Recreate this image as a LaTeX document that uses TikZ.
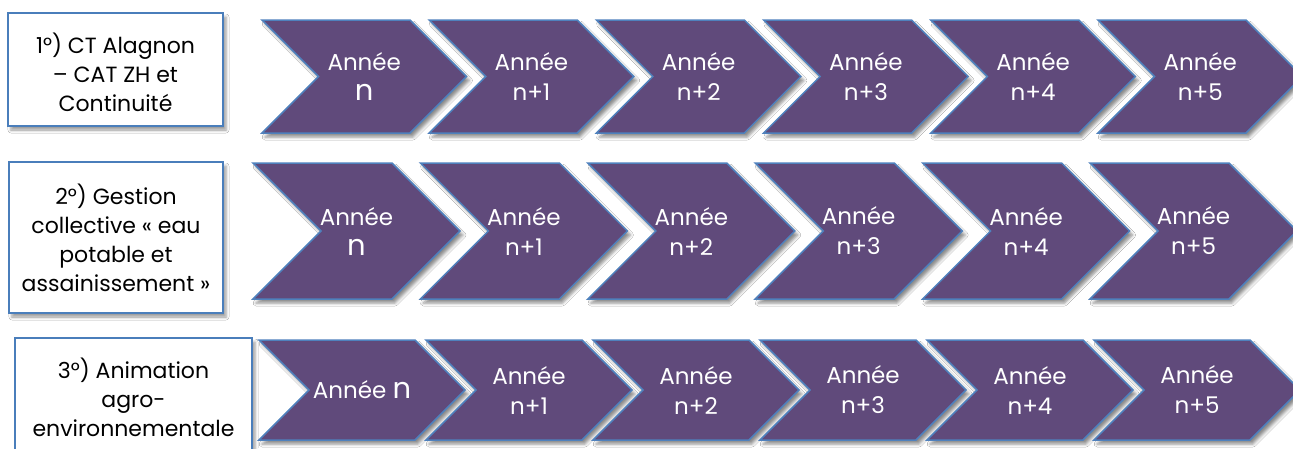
\documentclass[tikz,border=0pt]{standalone}
\usepackage{fontspec}
\setmainfont{Poppins}
\usetikzlibrary{shadows.blur}
\definecolor{chevfill}{HTML}{604A7B}
\definecolor{chevline}{HTML}{4F81BD}
\definecolor{boxline}{HTML}{4A7EBB}
\tikzset{
  chevstyle/.style={fill=chevfill, draw=chevline, line width=1.5pt, line join=miter,
    blur shadow={shadow xshift=3pt, shadow yshift=-4pt, shadow blur radius=3pt, shadow opacity=45}},
  chevtext/.style={text=white, align=center, font=\fontsize{23}{30}\selectfont, inner sep=0pt},
  labelbox/.style={fill=white, draw=boxline, line width=2pt,
    blur shadow={shadow xshift=3pt, shadow yshift=-4pt, shadow blur radius=3pt, shadow opacity=40}},
  labeltext/.style={text=black, align=center, font=\fontsize{22}{29}\selectfont, inner sep=0pt}
}
\newcommand\bign{{\fontsize{29}{30}\selectfont n}}
% #1 x0, #2 top, #3 top width, #4 half height, #5 name, #6 text
\newcommand\mychev[6]{%
  \path[chevstyle] (#1,#2) -- ++(#3,0) -- ++(#4,#4) -- ++(-#4,#4) -- ++(-#3,0) -- ++(#4,-#4) -- cycle;
  \node[chevtext] (#5) at ({#1+(#3+#4)/2},{#2+#4}) {#6};
}
\begin{document}
\begin{tikzpicture}[x=1pt,y=-1pt]
\useasboundingbox (0,0) rectangle (1293,448);
\clip (0,0) rectangle (1293,448);
\fill[white] (0,0) rectangle (1293,448);

% Row 1
\path[labelbox] (8,13) rectangle (223,126);
\node[labeltext] (lab1) at (115.5,72) {1°) CT Alagnon\\– CAT ZH et\\Continuité};
\mychev{262}{20}{148}{56.5}{r1c0}{Année\\\bign}
\mychev{429.2}{20}{148}{56.5}{r1c1}{Année\\n+1}
\mychev{596.4}{20}{148}{56.5}{r1c2}{Année\\n+2}
\mychev{763.6}{20}{148}{56.5}{r1c3}{Année\\n+3}
\mychev{930.8}{20}{148}{56.5}{r1c4}{Année\\n+4}
\mychev{1098}{20}{148}{56.5}{r1c5}{Année\\n+5}

% Row 2
\path[labelbox] (9,162) rectangle (223,313);
\node[labeltext] (lab2) at (116,238) {2°) Gestion\\collective « eau\\potable et\\assainissement »};
\mychev{253}{163}{139}{68}{r2c0}{Année\\\bign}
\mychev{420.4}{163}{139}{68}{r2c1}{Année\\n+1}
\mychev{587.8}{163}{139}{68}{r2c2}{Année\\n+2}
\mychev{755.2}{163}{139}{68}{r2c3}{Année\\n+3}
\mychev{922.6}{163}{139}{68}{r2c4}{Année\\n+4}
\mychev{1090}{163}{139}{68}{r2c5}{Année\\n+5}

% Row 3
\path[labelbox] (15,338) rectangle (252,458);
\node[labeltext] (lab3) at (133.5,397) {3°) Animation\\agro-\\environnementale};
\mychev{259}{340}{156}{50}{r3c0}{Année \bign}
\mychev{426}{340}{156}{50}{r3c1}{Année\\n+1}
\mychev{593}{340}{156}{50}{r3c2}{Année\\n+2}
\mychev{760}{340}{156}{50}{r3c3}{Année\\n+3}
\mychev{927}{340}{156}{50}{r3c4}{Année\\n+4}
\mychev{1094}{340}{156}{50}{r3c5}{Année\\n+5}
\end{tikzpicture}
\end{document}
